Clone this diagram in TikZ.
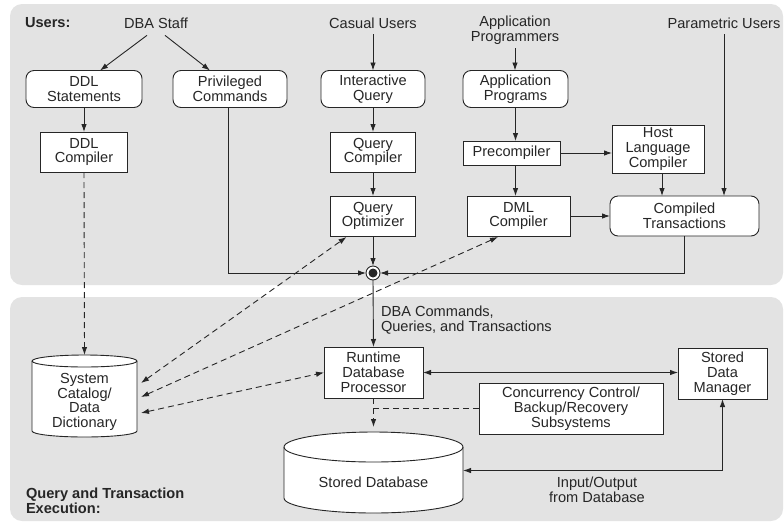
\documentclass[tikz,border=0pt]{standalone}
\usepackage{fontspec}
\setmainfont{Liberation Sans}
\usetikzlibrary{arrows.meta,calc}
\definecolor{ink}{HTML}{262626}
\definecolor{panelgray}{HTML}{E3E3E3}
\newcommand\fs{\fontsize{14.6}{14.8}\selectfont}
% cylinder drawn around a (text-less) node: name, x radius, y radius
\newcommand\dbcyl[3]{%
  \draw[draw=ink, fill=white, line width=0.9pt]
    ($(#1.north west)+(0,#3)$) -- ($(#1.south west)+(0,-#3)$)
    arc[start angle=180, end angle=360, x radius=#2pt, y radius=#3pt]
    -- ($(#1.north east)+(0,#3)$)
    arc[start angle=0, end angle=180, x radius=#2pt, y radius=#3pt] -- cycle;
  \draw[draw=ink, line width=0.9pt] ($(#1.north west)+(0,#3)$)
    arc[start angle=180, end angle=360, x radius=#2pt, y radius=#3pt];}
\begin{document}
\begin{tikzpicture}[x=1pt,y=-1pt,
  every node/.style={font=\fs, text=ink, align=center, inner sep=0pt, outer sep=0pt},
  rbox/.style={draw=ink, fill=white, line width=0.9pt, rounded corners=8pt},
  sbox/.style={draw=ink, fill=white, line width=0.9pt},
  cylnode/.style={draw=none, minimum width=#1},
  arr/.style={draw=ink, line width=0.9pt, -{Latex[length=8pt,width=5.5pt]}},
  darr/.style={draw=ink, line width=0.9pt, {Latex[length=8pt,width=5.5pt]}-{Latex[length=8pt,width=5.5pt]}},
  dsh/.style={dash pattern=on 6pt off 4pt},
  bold/.style={font=\fs\bfseries, align=left},
]
\useasboundingbox (0,0) rectangle (784,523);
% panels
\fill[panelgray, rounded corners=12pt] (10,4) rectangle (783,285);
\fill[panelgray, rounded corners=12pt] (10,297) rectangle (783,521);

% ---- user labels
\node[bold, anchor=west] (users) at (25,23) {Users:};
\node (dba) at (156,23) {DBA Staff};
\node (casual) at (373,23) {Casual Users};
\node (approg) at (515,30) {Application\\Programmers};
\node (param) at (724,23) {Parametric Users};

% ---- top boxes
\node[rbox, minimum width=116pt, minimum height=37pt] (ddls) at (84,89) {DDL\\Statements};
\node[rbox, minimum width=114pt, minimum height=37pt] (priv) at (230,89) {Privileged\\Commands};
\node[rbox, minimum width=104pt, minimum height=37pt] (iq) at (373,89) {Interactive\\Query};
\node[rbox, minimum width=105pt, minimum height=37pt] (aprogs) at (515.5,89) {Application\\Programs};
\node[sbox, minimum width=87pt, minimum height=40pt] (ddlc) at (84,152) {DDL\\Compiler};
\node[sbox, minimum width=85pt, minimum height=40pt] (qc) at (373,152) {Query\\Compiler};
\node[sbox, minimum width=85pt, minimum height=40pt] (qo) at (373,216) {Query\\Optimizer};
\node[sbox, minimum width=97pt, minimum height=24pt] (prec) at (511.5,153) {Precompiler};
\node[sbox, minimum width=92pt, minimum height=48pt] (hlc) at (658,149) {Host\\Language\\Compiler};
\node[sbox, minimum width=103pt, minimum height=40pt] (dml) at (518.5,216) {DML\\Compiler};
\node[rbox, minimum width=149pt, minimum height=40pt] (ct) at (684.5,216) {Compiled\\Transactions};

% junction
\node[circle, draw=ink, fill=white, line width=0.9pt, minimum size=14pt] (junc) at (373,273) {};
\fill[ink] (junc.center) circle[radius=4.5pt];

% ---- bottom
\node[sbox, minimum width=99pt, minimum height=51pt] (rdp) at (373.5,372.5) {Runtime\\Database\\Processor};
\node[sbox, minimum width=89pt, minimum height=51pt] (sdm) at (722.5,373.5) {Stored\\Data\\Manager};
\node[sbox, minimum width=184pt, minimum height=51pt] (cc) at (571,408.5) {Concurrency Control/\\Backup/Recovery\\Subsystems};

\node[cylnode=105pt, minimum height=82pt] (cat) at (84.5,396) {};
\dbcyl{cat}{52.5}{6}
\node (catT) at (84.5,402) {System\\Catalog/\\Data\\Dictionary};

\node[cylnode=179pt, minimum height=81pt] (sdb) at (373.5,472.5) {};
\dbcyl{sdb}{89.5}{15}
\node (sdbT) at (373.5,482) {Stored Database};

\node[anchor=west, align=left] (cmdlbl) at (381,320) {DBA Commands,\\Queries, and Transactions};
\node (iolbl) at (597,490) {Input/Output\\from Database};
\node[bold, anchor=west] (qte) at (26,501) {Query and Transaction\\Execution:};

% helper coordinates
\coordinate (hlcS) at ($(hlc.south)+(4,0)$);

% ---- solid connectors
\draw[arr] ($(dba.south)+(-9,7)$) -- ($(ddls.north)+(16,0)$);
\draw[arr] ($(dba.south)+(9,7)$) -- ($(priv.north)+(-20,0)$);
\draw[arr] ($(casual.south)+(0,6)$) -- (iq.north);
\draw[arr] ($(approg.south)+(0,4)$) -- (approg.south |- aprogs.north);
\draw[arr] ($(param.south)+(0,6)$) -- (param.south |- ct.north);
\draw[arr] (ddls.south) -- (ddlc.north);
\draw[arr] (iq.south) -- (qc.north);
\draw[arr] (qc.south) -- (qo.north);
\draw[arr] (qo.south) -- (junc.north);
\draw[arr] (aprogs.south) -- (aprogs.south |- prec.north);
\draw[arr] (prec.east) -- (prec.east -| hlc.west);
\draw[arr] (aprogs.south |- prec.south) -- (aprogs.south |- dml.north);
\draw[arr] (hlcS) -- (hlcS |- ct.north);
\draw[arr] (dml.east) -- (dml.east -| ct.west);
\draw[arr] ($(priv.south)+(-2,0)$) |- (junc.west);
\draw[arr] (ct.south) |- (junc.east);
\draw[arr] (junc.south) -- (rdp.north);
\draw[darr] (rdp.east) -- (rdp.east -| sdm.west);
\draw[darr] (sdm.south) |- ($(sdb.east)+(0,-2)$);

% ---- dashed connectors
\draw[arr, dsh] (ddlc.south) -- (cat.north);
\draw[darr, dsh] ($(cat.east)+(4,-13)$) -- ($(qo.south west)+(16,1)$);
\draw[darr, dsh] ($(cat.east)+(4,1)$) -- ($(dml.south west)+(31,1)$);
\draw[darr, dsh] ($(cat.east)+(4,17)$) -- (rdp.west);
\draw[arr, dsh] (rdp.south) -- ($(sdb.north)+(0,-5)$);
\draw[dsh, draw=ink, line width=0.9pt] (cc.west) -- (cc.west -| rdp.south);
\end{tikzpicture}
\end{document}
